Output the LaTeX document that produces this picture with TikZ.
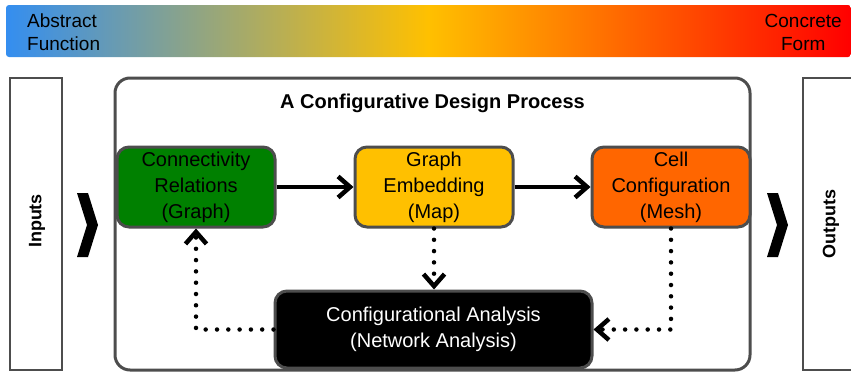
\documentclass[tikz,border=0pt]{standalone}
\usepackage{fontspec}
\setmainfont{Liberation Sans}
\usetikzlibrary{arrows.meta}
\definecolor{gblue}{RGB}{52,142,240}
\definecolor{gyellow}{RGB}{255,192,0}
\definecolor{gred}{RGB}{255,0,0}
\definecolor{bordergray}{RGB}{77,77,77}
\definecolor{boxgreen}{RGB}{0,128,0}
\definecolor{boxyellow}{RGB}{255,192,0}
\definecolor{boxorange}{RGB}{255,102,0}
\tikzset{
  stage/.style={draw=bordergray, line width=3pt, rounded corners=12pt, minimum width=158pt, minimum height=80pt, inner sep=0pt, align=center, font=\fontsize{20}{26}\selectfont},
  sidebox/.style={draw=bordergray, line width=2.5pt, minimum height=292pt, inner sep=0pt},
  sidelabel/.style={rotate=90, font=\fontsize{18}{20}\selectfont\bfseries},
  flow/.style={line width=4pt, -{Straight Barb[length=12pt,width=21pt,line width=4.5pt]}},
  fb/.style={line width=4.5pt, line cap=round, dash pattern=on 0pt off 11.3pt, -{Straight Barb[length=12pt,width=21pt,line width=4.5pt]}},
  bartext/.style={inner sep=0pt, font=\fontsize{19}{23}\selectfont},
  chev/.style={fill=black}
}
\begin{document}
\begin{tikzpicture}[x=1pt,y=-1pt]
\useasboundingbox (0,0) rectangle (851,372);
% gradient bar
\shade[left color=gblue, right color=gred, middle color=gyellow, rounded corners=3pt] (6,5) rectangle (851,57);
\node[bartext, anchor=west, align=left] (abs) at (27,32) {Abstract\\Function};
\node[bartext, anchor=east, align=center] (con) at (842,32) {Concrete\\Form};
% side boxes
\node[sidebox, minimum width=52pt] (inp) at (36,224) {};
\node[sidelabel] (inplab) at (37,221) {Inputs};
\node[sidebox, minimum width=70pt] (outp) at (838,224) {};
\node[sidelabel] (outlab) at (831,224) {Outputs};
% chevrons
\fill[chev] (77,193) -- (88,193) -- (98,225) -- (88,257) -- (77,257) -- (87,225) -- cycle;
\fill[chev] (767,193) -- (778,193) -- (788,225) -- (778,257) -- (767,257) -- (777,225) -- cycle;
% main box
\node[draw=bordergray, line width=3pt, rounded corners=15pt, minimum width=635pt, minimum height=292pt, inner sep=0pt] (main) at (432.5,224) {};
\node[font=\fontsize{20}{24}\selectfont\bfseries] (title) at (432.5,103) {A Configurative Design Process};
% stages
\node[stage, fill=boxgreen] (grn) at (196,187) {Connectivity\\Relations\\(Graph)};
\node[stage, fill=boxyellow] (yel) at (434,187) {Graph\\Embedding\\(Map)};
\node[stage, fill=boxorange] (org) at (671,187) {Cell\\Configuration\\(Mesh)};
\node[stage, fill=black, text=white, minimum width=317pt, minimum height=77pt] (blk) at (433.5,329.5) {Configurational Analysis\\(Network Analysis)};
% connectors
\draw[flow] (grn) -- (yel);
\draw[flow] (yel) -- (org);
\draw[fb] (yel.south) -- (yel.south |- blk.north);
\draw[fb] (org.south) |- (blk.east);
\draw[fb] (blk.west) -| (grn.south);
\end{tikzpicture}
\end{document}
